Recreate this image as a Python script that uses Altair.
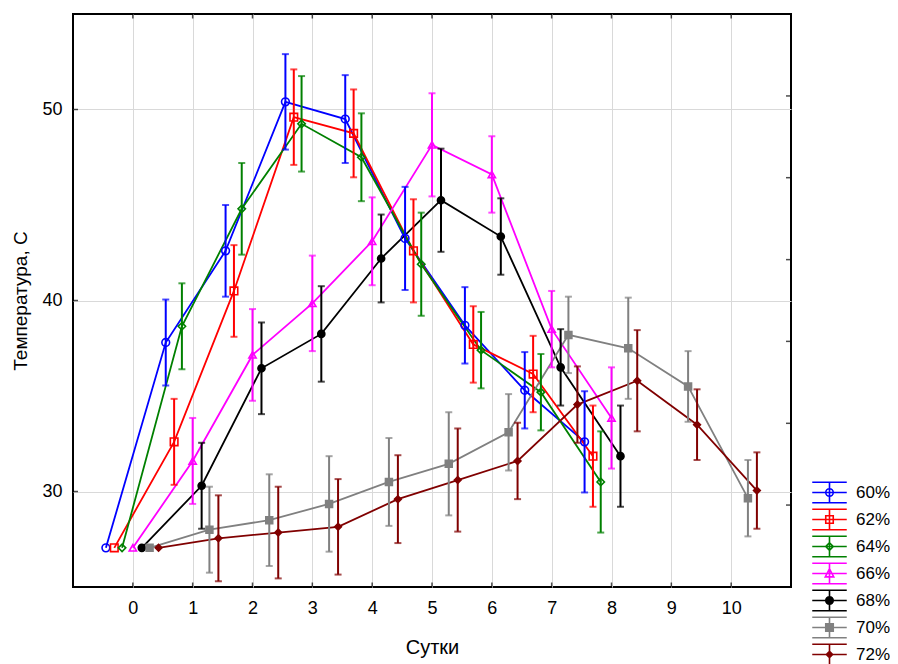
import altair as alt
import pandas as pd

FONT = "Liberation Sans"

series = ["60%", "62%", "64%", "66%", "68%", "70%", "72%"]
colors = ["#0000FF", "#FF0000", "#008000", "#FF00FF", "#000000", "#808080", "#800000"]
offsets = [-0.45, -0.31, -0.18, 0.0, 0.15, 0.28, 0.43]
shapes = ["circle", "square", "diamond", "triangle-up", "circle", "square", "diamond"]
fills = ["transparent", "transparent", "transparent", "transparent", "#000000", "#808080", "#800000"]
sizes = [60, 45, 36, 72, 45, 45, 33]

days = list(range(11))
err = [0, 2.25, 2.4, 2.5, 2.3, 2.7, 2.0, 2.0, 2.65, 1.85, 2.0]

t60 = [27.05, 37.8, 42.6, 50.4, 49.5, 43.25, 38.7, 35.3, 32.6]
t62 = [27.05, 32.6, 40.5, 49.6, 48.75, 42.6, 37.7, 36.15, 31.85]
t64 = [27.05, 38.65, 44.8, 49.25, 47.5, 41.9, 37.4, 35.2, 30.5]
t66 = [27.05, 31.6, 37.15, 39.85, 43.1, 48.15, 46.6, 38.5, 33.85]
t68 = [27.05, 30.3, 36.45, 38.25, 42.2, 45.25, 43.35, 36.5, 31.85]
t70 = [27.05, 28.0, 28.5, 29.35, 30.5, 31.45, 33.1, 38.2, 37.5, 35.5, 29.65]
t72 = [27.05, 27.55, 27.85, 28.15, 29.6, 30.6, 31.6, 34.55, 35.8, 33.5, 30.05]
values = [t60, t62, t64, t66, t68, t70, t72]

x_ticks = list(range(11))
y_ticks = [30, 40, 50]
right_ticks = [29.29, 33.57, 37.86, 42.14, 46.43, 50.71]

# legend symbols: error-bar glyph + marker
bars = "M-1.38,-0.82H1.38M-1.38,0H1.38M-1.38,0.82H1.38M0,-0.82V0.82"
circ = "M0.3,0A0.3,0.3,0,1,1,-0.3,0A0.3,0.3,0,1,1,0.3,0Z"
sq = "M-0.3,-0.3H0.3V0.3H-0.3Z"
dia = "M0,-0.3L0.3,0L0,0.3L-0.3,0Z"
tri = "M0,-0.38L0.34,0.27L-0.34,0.27Z"
dia_s = "M0,-0.25L0.25,0L0,0.25L-0.25,0Z"
legend_paths = [bars + circ, bars + sq, bars + dia, bars + tri, bars + circ, bars + sq, bars + dia_s]

rows = []
for i, s in enumerate(series):
    for j, v in enumerate(values[i]):
        rows.append({"series": s, "x": days[j] + offsets[i], "mean": v,
                     "lo": v - err[j], "hi": v + err[j], "err": err[j]})
df = pd.DataFrame(rows)
df_err = df[df["err"] > 0]
df_leg = df[df["x"] < 0.5].groupby("series", as_index=False).first()

frame_v = pd.DataFrame([{"x": d, "mean": 25} for d in x_ticks] + [{"x": d, "mean": 55} for d in x_ticks])
frame_h = pd.DataFrame([{"x": -1, "mean": v} for v in y_ticks] + [{"x": 11, "mean": v} for v in right_ticks])

xscale = alt.Scale(domain=[-1, 11], nice=False, zero=False)
yscale = alt.Scale(domain=[25, 55], nice=False, zero=False)

xaxis = alt.Axis(values=x_ticks, grid=True, gridColor="#d9d9d9", gridWidth=1, ticks=False,
                 domain=False, labelFontSize=18, labelFont=FONT, labelColor="black",
                 labelPadding=12, labelFlush=False, title="Сутки", titleFont=FONT,
                 titleFontSize=20, titleFontWeight="normal", titleColor="black", titlePadding=20)
yaxis = alt.Axis(values=y_ticks, grid=True, gridColor="#d9d9d9", gridWidth=1, ticks=False,
                 domain=False, labelFontSize=18, labelFont=FONT, labelColor="black",
                 labelPadding=11, labelFlush=False, title="Температура, С", titleFont=FONT,
                 titleFontSize=19, titleFontWeight="normal", titleColor="black", titlePadding=11)

X = alt.X("x:Q", scale=xscale, axis=xaxis)

def col(field="series"):
    return alt.Color(f"{field}:N", scale=alt.Scale(domain=series, range=colors), legend=None)

lines = alt.Chart(df).mark_line(strokeWidth=1.8).encode(
    x=X, y=alt.Y("mean:Q", scale=yscale, axis=yaxis), color=col(), detail="series:N")

rules = alt.Chart(df_err).mark_rule(strokeWidth=2).encode(
    x=X, y=alt.Y("lo:Q", scale=yscale, axis=yaxis), y2="hi:Q", color=col())

caps = alt.Chart(df_err).transform_fold(["lo", "hi"], as_=["k", "v"]).mark_tick(
    orient="horizontal", size=7, thickness=2).encode(
    x=X, y=alt.Y("v:Q", scale=yscale, axis=yaxis), color=col())

points = alt.Chart(df).mark_point(strokeWidth=1.6, opacity=1).encode(
    x=X, y=alt.Y("mean:Q", scale=yscale, axis=yaxis), color=col(),
    shape=alt.Shape("series:N", scale=alt.Scale(domain=series, range=shapes), legend=None),
    fill=alt.Fill("series:N", scale=alt.Scale(domain=series, range=fills), legend=None),
    size=alt.Size("series:N", scale=alt.Scale(domain=series, range=sizes), legend=None))

tv = alt.Chart(frame_v).mark_tick(orient="vertical", size=9, thickness=1.5, color="black", clip=True).encode(
    x=X, y=alt.Y("mean:Q", scale=yscale, axis=yaxis))
th = alt.Chart(frame_h).mark_tick(orient="horizontal", size=10, thickness=1.5, color="black", clip=True).encode(
    x=X, y=alt.Y("mean:Q", scale=yscale, axis=yaxis))

leg = alt.Legend(orient="none", legendX=743, legendY=465, title=None, symbolSize=625,
                 symbolStrokeWidth=1.6, symbolOpacity=1, labelFontSize=17, labelFont=FONT,
                 labelColor="black", labelOffset=13, rowPadding=0, padding=0, labelLimit=0)

driver = alt.Chart(df_leg).mark_point(opacity=0, strokeWidth=1.6).encode(
    x=X, y=alt.Y("mean:Q", scale=yscale, axis=yaxis),
    color=alt.Color("series:N", scale=alt.Scale(domain=series, range=colors), legend=leg),
    fill=alt.Fill("series:N", scale=alt.Scale(domain=series, range=fills), legend=leg),
    shape=alt.Shape("series:N", scale=alt.Scale(domain=series, range=legend_paths), legend=leg))

chart = alt.layer(lines, rules, caps, points, tv, th, driver).resolve_scale(
    color="independent", fill="independent", shape="independent", size="independent"
).properties(
    width=718, height=573,
    autosize=alt.AutoSizeParams(type="none"),
    padding={"left": 65, "top": 6, "right": 99, "bottom": 80},
    background="white",
).configure_view(stroke="black", strokeWidth=2)

chart.save("out.html", embed_options={"renderer": "svg", "actions": False})
